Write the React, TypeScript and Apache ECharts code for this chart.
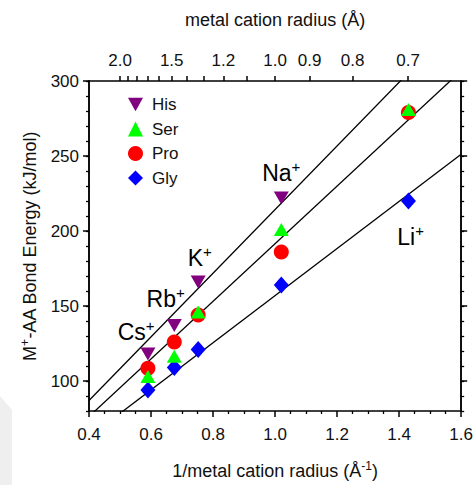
import React, { useEffect, useRef } from 'react';
import * as echarts from 'echarts';

// Ion data: 1/metal cation radius (Å^-1)
const ions = ['Cs', 'Rb', 'K', 'Na', 'Li'];
const invRadius = [0.59, 0.675, 0.752, 1.02, 1.43];

// M+-AA bond energies (kJ/mol)
const hisEnergy: (number | null)[] = [118, 137, 166, 222, null];
const serEnergy: (number | null)[] = [103, 116.5, 146, 201, 281];
const proEnergy: (number | null)[] = [108.5, 126, 144, 186, 279];
const glyEnergy: (number | null)[] = [94, 109, 121, 164, 220];

// Fitted lines (endpoints at x = 0.4 and 1.6)
const fitX = [0.4, 1.6];
const fitHis = [87, 341.6];
const fitSerPro = [76.3, 306.8];
const fitGly = [62.7, 251.1];

// Ion label anchors (data coordinates)
const ionLabelX = [0.552, 0.647, 0.757, 1.02, 1.437];
const ionLabelY = [132.5, 155, 182, 239, 196];

// Axis ticks
const yMajorTicks = [100, 150, 200, 250, 300];
const topRadiusTicks = [2.0, 1.9, 1.8, 1.7, 1.6, 1.5, 1.4, 1.3, 1.2, 1.1, 1.0, 0.9, 0.8, 0.7];
const topRadiusLabels = [2.0, 1.5, 1.2, 1.0, 0.9, 0.8, 0.7];

const FONT = 'Liberation Sans, Arial, sans-serif';
const TXT = '#111';

const pts = (ys: (number | null)[]) =>
  invRadius.map((x, i) => [x, ys[i]]).filter((p) => p[1] != null);

export default function App() {
  const ref = useRef<HTMLDivElement>(null);
  useEffect(() => {
    if (!ref.current) return;
    const chart = echarts.init(ref.current, undefined, { renderer: 'svg' });
    const axisLine = { show: true, lineStyle: { color: '#000', width: 1.5 } };
    const yCommon = { type: 'value', min: 80, max: 300, splitLine: { show: false }, axisLine };
    const option: any = {
      animation: false,
      textStyle: { fontFamily: FONT },
      grid: { left: 89, right: 13, top: 81, bottom: 66 },
      legend: {
        orient: 'vertical',
        left: 123,
        top: 91,
        itemWidth: 15,
        itemHeight: 15,
        itemGap: 7.5,
        data: ['His', 'Ser', 'Pro', 'Gly'],
        textStyle: { fontFamily: FONT, fontSize: 17, color: TXT, padding: [0, 0, 0, 4] },
        selectedMode: false,
      },
      xAxis: [
        {
          type: 'value',
          min: 0.4,
          max: 1.6,
          interval: 0.2,
          position: 'bottom',
          splitLine: { show: false },
          axisLine,
          axisTick: { show: true, inside: false, length: 6, lineStyle: { color: '#000', width: 1.5 } },
          minorTick: { show: true, splitNumber: 4, length: 3, lineStyle: { color: '#000', width: 1.3 } },
          axisLabel: { fontSize: 17, color: TXT, margin: 15, formatter: (v: number) => v.toFixed(1) },
          name: '{b|1/metal cation radius (Å}{sup|-1}{b|)}',
          nameLocation: 'middle',
          nameGap: 49,
          nameTextStyle: {
            rich: {
              b: { fontSize: 18, color: TXT, fontFamily: FONT, lineHeight: 22 },
              sup: { fontSize: 12, color: TXT, fontFamily: FONT, verticalAlign: 'top', lineHeight: 22 },
            },
          },
        },
        {
          type: 'value',
          min: 0.4,
          max: 1.6,
          position: 'top',
          splitLine: { show: false },
          axisLine,
          axisTick: {
            show: true,
            length: 5,
            customValues: topRadiusTicks.map((r) => 1 / r),
            lineStyle: { color: '#000', width: 1.5 },
          },
          axisLabel: {
            fontSize: 17,
            color: TXT,
            margin: 12,
            customValues: topRadiusLabels.map((r) => 1 / r),
            formatter: (v: number) => (1 / v).toFixed(1),
          },
          name: 'metal cation radius (Å)',
          nameLocation: 'middle',
          nameGap: 52,
          nameTextStyle: { fontSize: 18, color: TXT, fontFamily: FONT },
        },
      ],
      yAxis: [
        {
          ...yCommon,
          position: 'left',
          axisTick: { show: true, length: 6, customValues: yMajorTicks, lineStyle: { color: '#000', width: 1.5 } },
          axisLabel: { fontSize: 17, color: TXT, margin: 10, customValues: yMajorTicks },
          name: '{b|M}{sup|+}{b|-AA Bond Energy (kJ/mol)}',
          nameLocation: 'middle',
          nameGap: 48,
          nameTextStyle: {
            rich: {
              b: { fontSize: 18, color: TXT, fontFamily: FONT, lineHeight: 22 },
              sup: { fontSize: 12, color: TXT, fontFamily: FONT, verticalAlign: 'top', lineHeight: 22 },
            },
          },
        },
        {
          ...yCommon,
          position: 'left',
          interval: 10,
          axisTick: { show: true, length: 3, lineStyle: { color: '#000', width: 1.3 } },
          axisLabel: { show: false },
        },
        {
          ...yCommon,
          position: 'right',
          axisTick: { show: true, length: 6, customValues: yMajorTicks, lineStyle: { color: '#000', width: 1.5 } },
          axisLabel: { show: false, customValues: yMajorTicks },
        },
        {
          ...yCommon,
          position: 'right',
          interval: 10,
          axisTick: { show: true, length: 3, lineStyle: { color: '#000', width: 1.3 } },
          axisLabel: { show: false },
        },
      ],
      graphic: [
        {
          type: 'polygon',
          silent: true,
          z: -10,
          shape: { points: [[0, 396], [12, 410], [12, 485], [0, 485]] },
          style: { fill: '#efefef' },
        },
      ],
      series: [
        ...[fitHis, fitSerPro, fitGly].map((f) => ({
          type: 'line',
          xAxisIndex: 0,
          yAxisIndex: 0,
          data: fitX.map((x, i) => [x, f[i]]),
          symbol: 'none',
          clip: true,
          lineStyle: { color: '#000', width: 1.3 },
          silent: true,
          z: 1,
        })),
        {
          name: 'Gly',
          type: 'scatter',
          data: pts(glyEnergy),
          symbol: 'diamond',
          symbolSize: [15, 17],
          itemStyle: { color: '#0000ff', opacity: 1 },
          z: 3,
        },
        {
          name: 'Pro',
          type: 'scatter',
          data: pts(proEnergy),
          symbol: 'circle',
          symbolSize: 15,
          itemStyle: { color: '#ff0000', opacity: 1 },
          z: 3,
        },
        {
          name: 'Ser',
          type: 'scatter',
          data: pts(serEnergy),
          symbol: 'triangle',
          symbolSize: [15, 13],
          itemStyle: { color: '#00ff00', opacity: 1 },
          z: 4,
        },
        {
          name: 'His',
          type: 'scatter',
          data: pts(hisEnergy),
          symbol: 'path://M0,0 L10,0 L5,9 Z',
          symbolSize: [15, 13],
          itemStyle: { color: '#800080', opacity: 1 },
          z: 4,
        },
        {
          type: 'scatter',
          silent: true,
          symbolSize: 0,
          itemStyle: { color: '#ffffff', opacity: 1 },
          data: ions.map((n, i) => ({ value: [ionLabelX[i], ionLabelY[i]], name: n })),
          label: {
            show: true,
            position: 'inside',
            color: '#000',
            opacity: 1,
            textBorderWidth: 0,
            formatter: (p: any) => `{b|${p.name}}{sup|+}`,
            rich: {
              b: { fontSize: 23, color: '#000', fontFamily: FONT, lineHeight: 28 },
              sup: { fontSize: 15, color: '#000', fontFamily: FONT, verticalAlign: 'top', lineHeight: 28 },
            },
          },
          z: 5,
        },
      ],
    };
    chart.setOption(option);
    return () => chart.dispose();
  }, []);
  return (
    <div
      ref={ref}
      style={{ position: 'fixed', left: 0, top: 0, width: 476, height: 485, background: '#fff' }}
    />
  );
}
